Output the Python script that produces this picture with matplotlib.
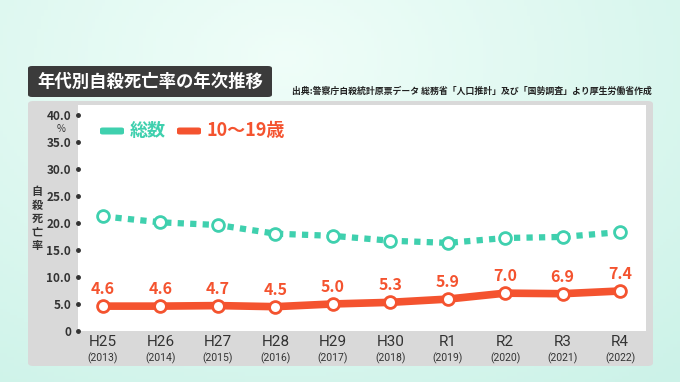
import numpy as np
import matplotlib.pyplot as plt
from matplotlib.patches import FancyBboxPatch
from matplotlib.transforms import blended_transform_factory

plt.rcParams['font.family'] = ['Noto Sans CJK JP', 'DejaVu Sans']

# data
eras = ['H25', 'H26', 'H27', 'H28', 'H29', 'H30', 'R1', 'R2', 'R3', 'R4']
years = ['(2013)', '(2014)', '(2015)', '(2016)', '(2017)', '(2018)',
         '(2019)', '(2020)', '(2021)', '(2022)']
total = [21.2, 20.1, 19.6, 18.0, 17.6, 16.7, 16.3, 17.2, 17.4, 18.3]
teens = [4.6, 4.6, 4.7, 4.5, 5.0, 5.3, 5.9, 7.0, 6.9, 7.4]
yticks = [0, 5, 10, 15, 20, 25, 30, 35, 40]
ytick_labels = ['0', '5.0', '10.0', '15.0', '20.0', '25.0', '30.0', '35.0', '40.0']
ylabel_chars = ['自', '殺', '死', '亡', '率']

TEAL = '#3fd0ae'
RED = '#f4532f'
DARK = '#333333'

W, H = 680, 382
fig = plt.figure(figsize=(W / 100, H / 100), dpi=100)


def fx(px):
    return px / W


def fy(py):
    return 1 - py / H


# background gradient
bg = fig.add_axes([0, 0, 1, 1])
bg.set_zorder(-2)
xx, yy = np.meshgrid(np.linspace(0, 1, 200), np.linspace(0, 1, 120))
r = np.sqrt(((xx - 0.42) / 0.9) ** 2 + ((yy - 0.15) / 1.1) ** 2)
r = np.clip(r, 0, 1)
c0 = np.array([0.94, 0.995, 0.975])
c1 = np.array([0.80, 0.95, 0.91])
img = c0[None, None, :] * (1 - r[..., None]) + c1[None, None, :] * r[..., None]
bg.imshow(img, extent=[0, 1, 0, 1], aspect='auto', origin='upper')
bg.set_xlim(0, 1)
bg.set_ylim(0, 1)
bg.axis('off')

# gray panel
panel = FancyBboxPatch((fx(28), fy(366)), fx(653) - fx(28), fy(101) - fy(366),
                       boxstyle='round,pad=0,rounding_size=0.008',
                       transform=fig.transFigure, facecolor='#d9d9d9',
                       edgecolor='none', zorder=-1)
fig.patches.append(panel)

# title box
tbox = FancyBboxPatch((fx(28), fy(97)), fx(272) - fx(28), fy(66) - fy(97),
                      boxstyle='round,pad=0,rounding_size=0.006',
                      transform=fig.transFigure, facecolor='#3b3b3b',
                      edgecolor='none', zorder=2)
fig.patches.append(tbox)
fig.text(fx(150), fy(81.5), '年代別自殺死亡率の年次推移', color='white',
         fontsize=12.5, fontweight='bold', ha='center', va='center')
fig.text(fx(652), fy(91), '出典:警察庁自殺統計原票データ 総務省「人口推計」及び「国勢調査」より厚生労働省作成',
         color='#222222', fontsize=6.4, fontweight='bold', ha='right', va='center')

# plot area
ax = fig.add_axes([fx(78), fy(331), fx(646) - fx(78), fy(105) - fy(331)])
ax.set_zorder(3)
ax.set_facecolor('white')
for s in ax.spines.values():
    s.set_visible(False)

x = np.arange(len(eras))
ax.set_xlim(-0.435, 9.45)
ax.set_ylim(0, 41.8)

ax.plot(x, total, color=TEAL, lw=4.5, linestyle=(0, (1.0, 1.0)),
        dash_capstyle='butt', zorder=3)
ax.plot(x, total, 'o', ms=8.5, mfc='white', mec=TEAL, mew=2, zorder=4)
ax.plot(x, teens, color=RED, lw=5.5, solid_joinstyle='round', zorder=3)
ax.plot(x, teens, 'o', ms=8.5, mfc='white', mec=RED, mew=2, zorder=4)

for xi, v in zip(x, teens):
    ax.annotate(f'{v:.1f}', (xi, v), xytext=(0, 6.5), textcoords='offset points',
                ha='center', va='bottom', color=RED, fontsize=11.5,
                fontweight='bold')

# y ticks with dots
ax.set_yticks(yticks)
ax.set_yticklabels(ytick_labels)
ax.tick_params(axis='y', length=0, pad=5, labelsize=8.5, labelcolor=DARK)
for lab in ax.get_yticklabels():
    lab.set_fontweight('bold')
ax.plot([ax.get_xlim()[0]] * len(yticks), yticks, 'o', color=DARK, ms=2.5,
        clip_on=False, zorder=5)
ax.text(-0.022, 37.4, '%', transform=blended_transform_factory(ax.transAxes, ax.transData),
        ha='right', va='center', fontsize=7, color=DARK)
for i, ch in enumerate(ylabel_chars):
    fig.text(fx(37), fy(191.5 + i * 13.5), ch, ha='center', va='center',
             fontsize=8, fontweight='bold', color=DARK)

# x labels
ax.set_xticks([])
for xi, e, yr in zip(x, eras, years):
    xf = fig.transFigure.inverted().transform(ax.transData.transform((xi, 0)))[0]
    fig.text(xf, fy(342.5), e, ha='center', va='center',
             fontsize=11, color=DARK, family='Roboto', zorder=6)
    fig.text(xf, fy(358.5), yr, ha='center', va='center',
             fontsize=7.5, color=DARK, family='Roboto', zorder=6)

# legend
lg = [(100, TEAL, '総数'), (177, RED, '10〜19歳')]
for px, col, name in lg:
    fig.patches.append(FancyBboxPatch((fx(px), fy(134.5)), fx(24), fy(127.5) - fy(134.5),
                                      boxstyle='round,pad=0,rounding_size=0.004',
                                      transform=fig.transFigure, facecolor=col,
                                      edgecolor='none', zorder=5))
    fig.text(fx(px + 30), fy(130.5), name, color=col, fontsize=13,
             fontweight='bold', ha='left', va='center', zorder=6)

fig.savefig('out.png', dpi=100)
